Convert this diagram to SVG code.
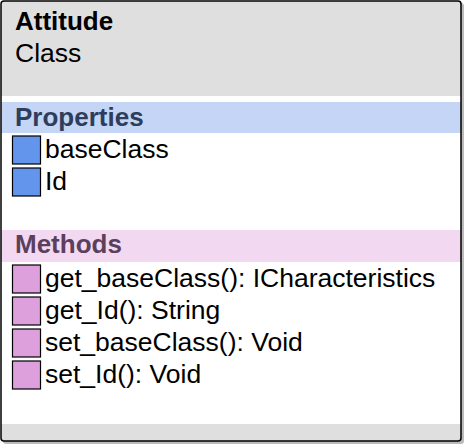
<svg xmlns="http://www.w3.org/2000/svg" width="467" height="448" viewBox="0 0 467 448">
<style>
text{font-family:"Liberation Sans",Arial,sans-serif;font-size:26.5px;fill:#000}
.b{font-weight:bold;font-size:26px}
.ph{fill:#2e3d5c}
.mh{fill:#5c3f5c}
.p{fill:#6495ed;stroke:#000;stroke-width:1.2}
.m{fill:#dda0dd;stroke:#000;stroke-width:1.2}
</style>
<g id="attitude-class">
<rect x="3" y="3" width="461" height="441" rx="3" fill="#bbb"/>
<rect x="1" y="1" width="460" height="440" rx="3" fill="#fff"/>
<rect x="1" y="1" width="460" height="95" fill="#dfdfdf"/>
<rect x="1" y="102" width="460" height="31" fill="#c4d5f5"/>
<rect x="1" y="230" width="460" height="32" fill="#f2d9f1"/>
<rect x="1" y="424" width="460" height="17" fill="#dfdfdf"/>
<rect x="1" y="1" width="460" height="440" rx="3" fill="none" stroke="#000" stroke-width="1.5"/>
<text class="b" x="15" y="30">Attitude</text>
<text x="15" y="62">Class</text>
<text class="b ph" x="15" y="126">Properties</text>
<rect class="p" x="12.5" y="136" width="28" height="28"/>
<text x="45" y="158">baseClass</text>
<rect class="p" x="12.5" y="168" width="28" height="28"/>
<text x="45" y="190">Id</text>
<text class="b mh" x="15" y="253">Methods</text>
<rect class="m" x="12.5" y="265" width="28" height="28"/>
<text x="45" y="287">get_baseClass(): ICharacteristics</text>
<rect class="m" x="12.5" y="297" width="28" height="28"/>
<text x="45" y="319">get_Id(): String</text>
<rect class="m" x="12.5" y="329" width="28" height="28"/>
<text x="45" y="351">set_baseClass(): Void</text>
<rect class="m" x="12.5" y="361" width="28" height="28"/>
<text x="45" y="383">set_Id(): Void</text>
</g>
<g id="connectors"/>
</svg>
